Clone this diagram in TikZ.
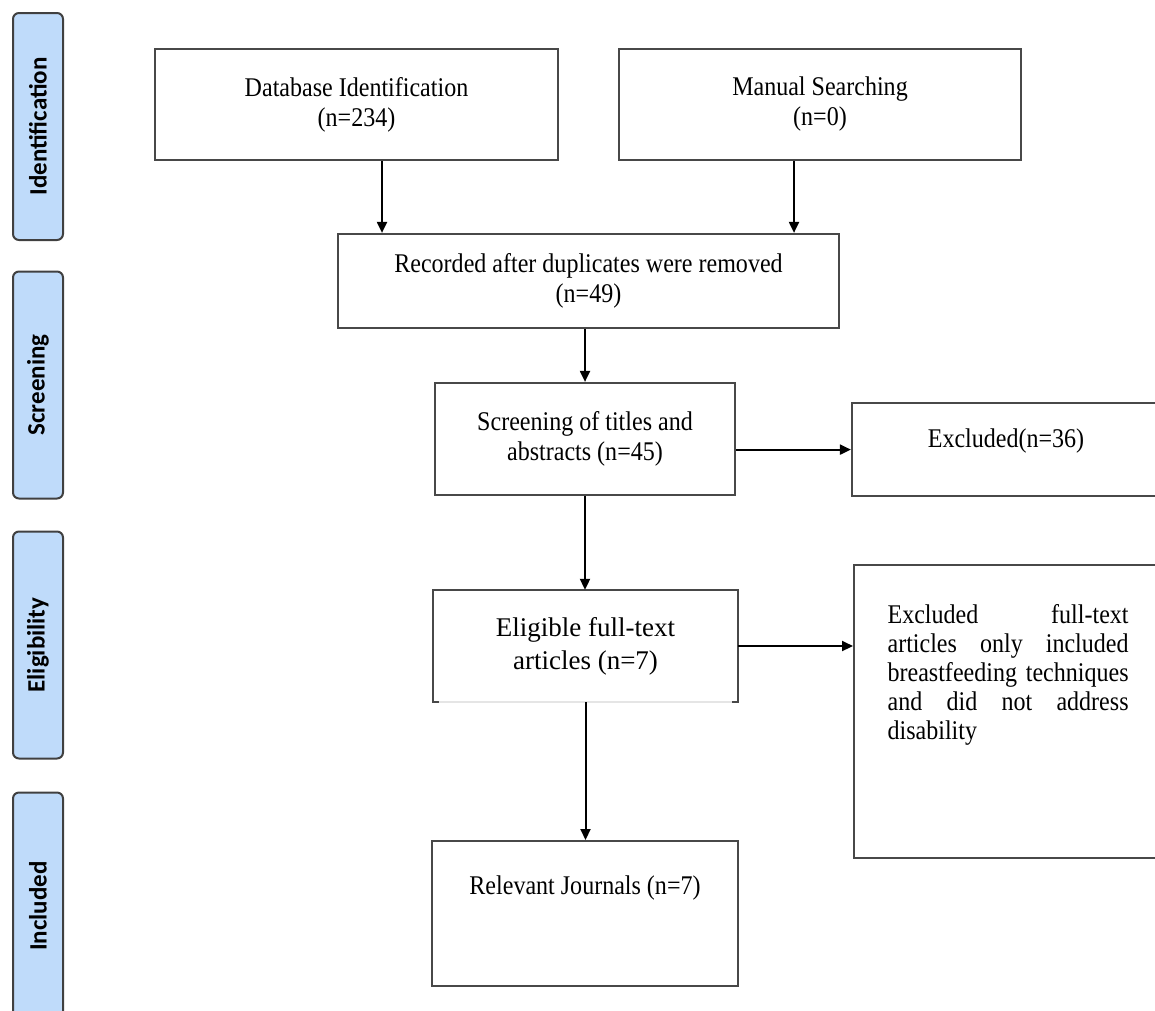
\documentclass[tikz,border=0pt]{standalone}
\usepackage{fontspec}
\setmainfont{Liberation Serif}[FakeStretch=0.89]
\newfontfamily\plainserif{Liberation Serif}
\newfontfamily\sidefont{Carlito}
\usetikzlibrary{
  positioning,
  arrows.meta
}
\definecolor{sideblue}{RGB}{191,219,250}
\definecolor{sidegray}{RGB}{64,64,64}
\definecolor{boxgray}{RGB}{72,72,72}
\tikzset{
  stagebox/.style={draw=sidegray,line width=2pt,fill=sideblue,rounded corners=6pt,rotate=90,
    minimum height=50pt,inner sep=0pt,font=\sidefont\bfseries\fontsize{25}{30}\selectfont},
  flowbox/.style={draw=boxgray,line width=2.2pt,inner sep=0pt,align=center,
    font=\fontsize{27}{30}\selectfont},
  arr/.style={-{Triangle[length=11pt,width=10pt]},line width=2pt,black}
}
\hbadness=10000

\begin{document}
\begin{tikzpicture}[x=1pt,y=-1pt]
		\useasboundingbox (0,0) rectangle (1155,1010);
		% stage labels on the left
		\foreach \nm/\y/\txt in {idstage/126.5/Identification,scrstage/385/Screening,eligstage/645/Eligibility,inclstage/906/Included}{
		    \node [stagebox,minimum width=227pt] (\nm) at (38,\y) {\txt};
		}
		% flow boxes
		\node [flowbox,minimum width=403pt,minimum height=111pt] (dbid) at (356.5,104.5) {Database Identification\\(n=234)};
		\node [flowbox,minimum width=402pt,minimum height=111pt] (manual) at (820,104.5) {Manual Searching\\(n=0)};
		\node [flowbox,minimum width=501pt,minimum height=94pt] (recorded) at (588.5,281) {Recorded after duplicates were removed\\(n=49)};
		\node [flowbox,minimum width=300pt,minimum height=112pt] (screen) at (585,439) {Screening of titles and\\abstracts (n=45)};
		\node [flowbox,anchor=north,minimum width=308pt,text height=44pt,text depth=49pt] (excl) at (1006,402) {Excluded(n=36)};
		\node [minimum width=305pt,minimum height=112pt,inner sep=0pt,align=center,
		    font=\plainserif\fontsize{27}{33}\selectfont] (eligible) at (585.5,646) {Eligible full-text\\articles (n=7)};
		\node [flowbox,anchor=north west,text width=241pt,inner xsep=33.5pt,text height=58pt,text depth=235pt,
		    align=justify,font=\fontsize{27}{29}\selectfont] (exclft) at (853,564)
		    {Excluded full-text\linebreak articles only included\linebreak breastfeeding techniques\linebreak and did not address\linebreak disability};
		\node [flowbox,anchor=north,minimum width=306pt,text height=53pt,text depth=92pt] (journals) at (585,840) {Relevant Journals (n=7)};
		% open-bottomed eligibility box
		\draw [draw=boxgray,line width=2.2pt] ([xshift=6pt]eligible.south west) -- (eligible.south west) -- (eligible.north west)
		    -- (eligible.north east) -- (eligible.south east) -- ([xshift=-6pt]eligible.south east);
		\draw [draw=gray!20,line width=1.5pt] ([xshift=6pt]eligible.south west) -- ([xshift=-6pt]eligible.south east);
		% arrows
		\coordinate (dbout) at ([xshift=25.5pt]dbid.south);
		\coordinate (manout) at ([xshift=-26pt]manual.south);
		\draw [arr] (dbout) -- (dbout |- recorded.north);
		\draw [arr] (manout) -- (manout |- recorded.north);
		\draw [arr] (recorded.south -| screen.north) -- (screen.north);
		\draw [arr] (screen.east |- excl.west) -- (excl.west);
		\draw [arr] (screen.south) -- (screen.south |- eligible.north);
		\draw [arr] (eligible.east) -- (eligible.east -| exclft.west);
		\draw [arr] (eligible.south) -- (eligible.south |- journals.north);
	\end{tikzpicture}
\end{document}
